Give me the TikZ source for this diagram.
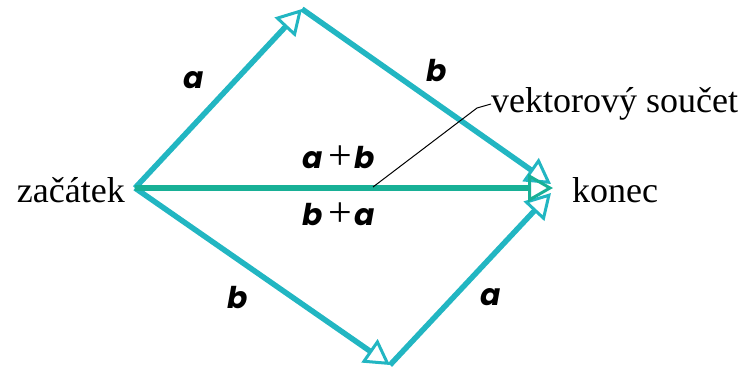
\documentclass[tikz,border=0pt]{standalone}
\usepackage{fontspec}
\setmainfont{Liberation Serif}
\newfontfamily\vecfont[ItalicFont={Poppins Bold Italic}]{Poppins}
\usetikzlibrary{arrows.meta}
\definecolor{sidec}{RGB}{34,182,194}
\definecolor{sumc}{RGB}{24,176,150}
\tikzset{
  vecarrow/.style={line width=5.5pt, -{Triangle[open,length=25pt,width=28pt,line width=3pt]}},
  sidevec/.style={vecarrow, draw=sidec},
  sumvec/.style={vecarrow, draw=sumc},
  vlabel/.style={font=\fontsize{30}{30}\selectfont\vecfont\itshape, inner sep=0pt},
  txt/.style={font=\fontsize{36}{36}\selectfont, inner sep=0pt},
}
\newcommand{\plusthin}{\hspace{5pt}{\normalfont\fontsize{42}{42}\selectfont\raisebox{-1pt}{+}}\hspace{3pt}}
\begin{document}
\begin{tikzpicture}[x=1pt,y=-1pt]
\useasboundingbox (0,0) rectangle (747,367);
\coordinate (S) at (135,188);
\coordinate (T) at (302,9);
\coordinate (B) at (390,365);
\coordinate (E) at (553,188);
\coordinate (Eb) at (551,184);
\coordinate (Ea) at (551,193);
\draw[sidevec] (S) -- (T);
\draw[sidevec] (T) -- (Eb);
\draw[sidevec] (S) -- (B);
\draw[sidevec] (B) -- (Ea);
\draw[sumvec] (S) -- (E);
\node[txt, anchor=east] (zac) at (125,190) {začátek};
\node[txt, anchor=west] (kon) at (572,190) {konec};
\node[txt, anchor=west] (vs) at (491,104) {vektorový součet};
\coordinate (L0) at (373,187);
\coordinate (L1) at (477,108);
\draw[line width=1pt] (L0) -- (L1) -- (vs.west);
\node[vlabel] (la1) at (194,80) {a};
\node[vlabel] (lb1) at (437,71) {b};
\node[vlabel] (lab) at (339,158) {a\plusthin b};
\node[vlabel] (lba) at (339,215) {b\plusthin a};
\node[vlabel] (lb2) at (238,298) {b};
\node[vlabel] (la2) at (491,297) {a};
\end{tikzpicture}
\end{document}
